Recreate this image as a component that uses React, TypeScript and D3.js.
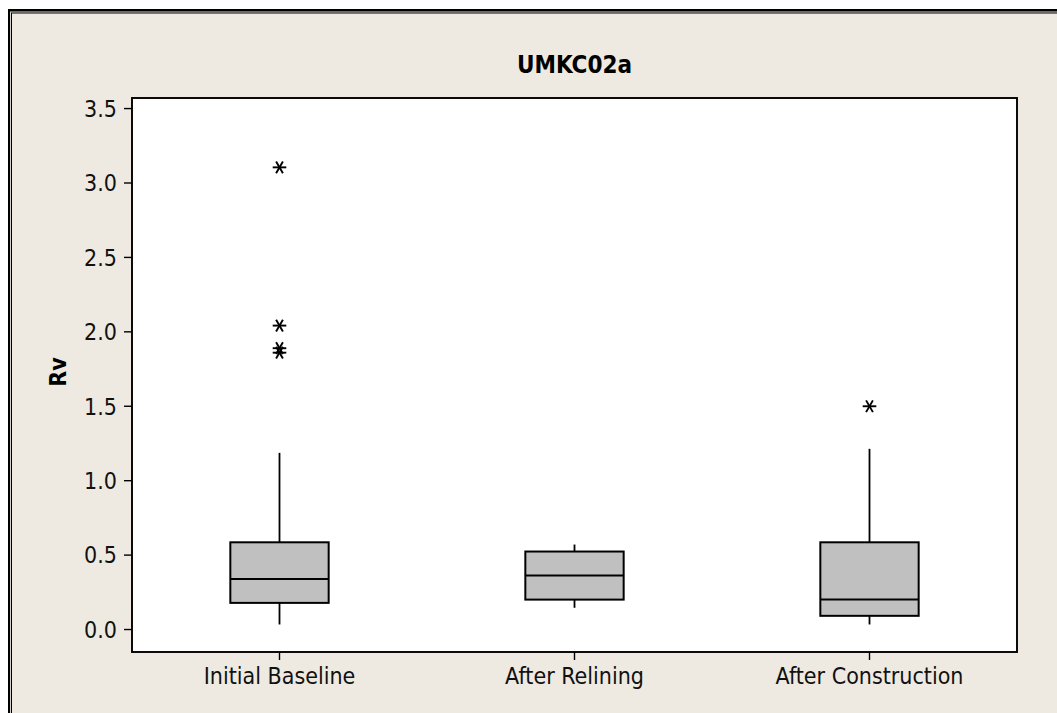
import React from "react";
import * as d3 from "d3";

const title = "UMKC02a";
const yLabel = "Rv";
const categories = ["Initial Baseline", "After Relining", "After Construction"];
const q1 = [0.179, 0.201, 0.092];
const median = [0.34, 0.363, 0.201];
const q3 = [0.586, 0.524, 0.586];
const whiskerLow = [0.034, 0.146, 0.034];
const whiskerHigh = [1.187, 0.571, 1.214];
const outliers: number[][] = [[3.105, 2.042, 1.89, 1.86], [], [1.5]];
const yTicks = [0.0, 0.5, 1.0, 1.5, 2.0, 2.5, 3.0, 3.5];

const W = 1057;
const H = 713;
const plot = { left: 132, right: 1017, top: 98, bottom: 652 };
const FONT = "'DejaVu Sans Condensed', 'DejaVu Sans', sans-serif";

export default function App() {
  const x = d3.scaleBand<string>().domain(categories).range([plot.left, plot.right]);
  const y = d3.scaleLinear().domain([-0.151, 3.571]).range([plot.bottom, plot.top]);
  const bw = x.bandwidth() / 3;
  const r = 6.8;
  const star = (cx: number, cy: number, k: string) => {
    const a = Math.cos(Math.PI / 3) * r;
    const b = Math.sin(Math.PI / 3) * r;
    return (
      <g key={k} stroke="#000" strokeWidth={1.9}>
        <line x1={cx - r} y1={cy} x2={cx + r} y2={cy} />
        <line x1={cx - a} y1={cy - b} x2={cx + a} y2={cy + b} />
        <line x1={cx - a} y1={cy + b} x2={cx + a} y2={cy - b} />
      </g>
    );
  };
  return (
    <svg
      width={W}
      height={H}
      style={{ position: "absolute", left: 0, top: 0, display: "block" }}
      fontFamily={FONT}
    >
      <rect x={0} y={0} width={W} height={H} fill="#fff" />
      <rect x={8} y={9} width={W + 50} height={H + 50} fill="#000" />
      <rect x={10} y={11.5} width={W + 50} height={H + 50} fill="#d8d4cc" />
      <rect x={11} y={12.5} width={W + 50} height={H + 50} fill="#000" />
      <rect x={12} y={13.5} width={W + 50} height={H + 50} fill="#eeeae1" />
      <text
        x={(plot.left + plot.right) / 2}
        y={73}
        textAnchor="middle"
        fontWeight="bold"
        fontSize={24}
        fill="#000"
      >
        {title}
      </text>
      <rect
        x={plot.left}
        y={plot.top}
        width={plot.right - plot.left}
        height={plot.bottom - plot.top}
        fill="#fff"
        stroke="#000"
        strokeWidth={1.9}
      />
      {yTicks.map((t) => (
        <g key={t}>
          <line x1={plot.left - 8} x2={plot.left} y1={y(t)} y2={y(t)} stroke="#000" strokeWidth={1.4} />
          <text x={plot.left - 15} y={y(t)} dy="0.36em" textAnchor="end" fontSize={23} fill="#111">
            {t.toFixed(1)}
          </text>
        </g>
      ))}
      {categories.map((c) => {
        const cx = x(c)! + x.bandwidth() / 2;
        return (
          <g key={c}>
            <line x1={cx} x2={cx} y1={plot.bottom} y2={plot.bottom + 8} stroke="#000" strokeWidth={1.4} />
            <text x={cx} y={684} textAnchor="middle" fontSize={23} fill="#111">
              {c}
            </text>
          </g>
        );
      })}
      <text
        transform={`translate(66, ${(plot.top + plot.bottom) / 2 - 3}) rotate(-90)`}
        textAnchor="middle"
        fontWeight="bold"
        fontSize={23}
        fill="#000"
      >
        {yLabel}
      </text>
      {categories.map((c, i) => {
        const cx = x(c)! + x.bandwidth() / 2;
        return (
          <g key={c}>
            <line x1={cx} x2={cx} y1={y(whiskerHigh[i])} y2={y(q3[i])} stroke="#000" strokeWidth={1.8} />
            <line x1={cx} x2={cx} y1={y(q1[i])} y2={y(whiskerLow[i])} stroke="#000" strokeWidth={1.8} />
            <rect
              x={cx - bw / 2}
              y={y(q3[i])}
              width={bw}
              height={y(q1[i]) - y(q3[i])}
              fill="#c0c0c0"
              stroke="#000"
              strokeWidth={2}
            />
            <line x1={cx - bw / 2} x2={cx + bw / 2} y1={y(median[i])} y2={y(median[i])} stroke="#000" strokeWidth={2} />
            {outliers[i].map((v, j) => star(cx, y(v), `${c}-${j}`))}
          </g>
        );
      })}
    </svg>
  );
}
